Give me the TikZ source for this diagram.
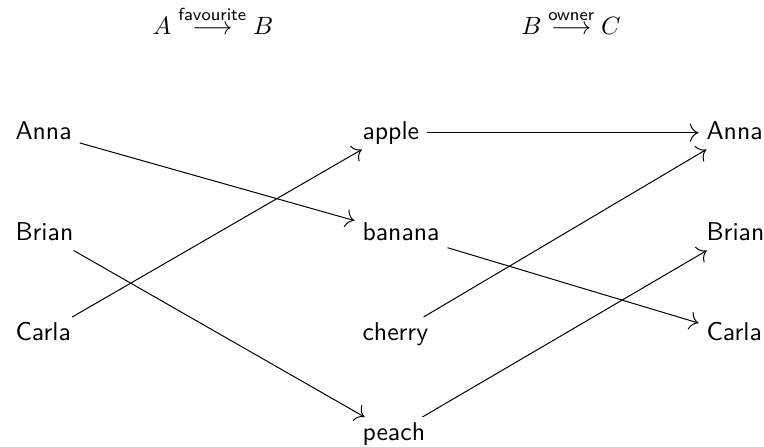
\documentclass[tikz,border=0pt]{standalone}
\usepackage{amsmath}
\usetikzlibrary{arrows.meta}
\tikzset{
  item/.style={anchor=base west, font=\sffamily\fontsize{10.3}{12}\selectfont,
               inner xsep=3pt, inner ysep=2pt,
               text height=7pt, text depth=2pt},
  map/.style={-{To[scale=1.4]}, line width=0.4pt},
  title/.style={anchor=base, inner sep=0pt}
}
\begin{document}
\begin{tikzpicture}[x=0.4pt, y=-0.4pt]
\useasboundingbox (0,0) rectangle (764,446);
% titles
\node[title] (t1) at (213,35) {$A \stackrel{\textsf{favourite}}{\longrightarrow} B$};
\node[title] (t2) at (571,35) {$B \stackrel{\textsf{owner}}{\longrightarrow} C$};
% left column
\node[item] (la) at (7.5,139) {Anna};
\node[item] (lb) at (7.5,240) {Brian};
\node[item] (lc) at (7.5,340) {Carla};
% middle column
\node[item] (ma) at (354.5,139) {apple};
\node[item] (mb) at (354.5,240) {banana};
\node[item] (mc) at (354.5,340) {cherry};
\node[item] (md) at (354.5,440) {peach};
% right column
\node[item] (ra) at (698.5,139) {Anna};
\node[item] (rb) at (698.5,240) {Brian};
\node[item] (rc) at (698.5,340) {Carla};
% favourite
\draw[map] (la) -- (mb);
\draw[map] (lb) -- (md);
\draw[map] (lc) -- (ma);
% owner
\draw[map] (ma) -- (ra);
\draw[map] (mb) -- (rc);
\draw[map] (mc) -- (ra);
\draw[map] (md) -- (rb);
\end{tikzpicture}
\end{document}
